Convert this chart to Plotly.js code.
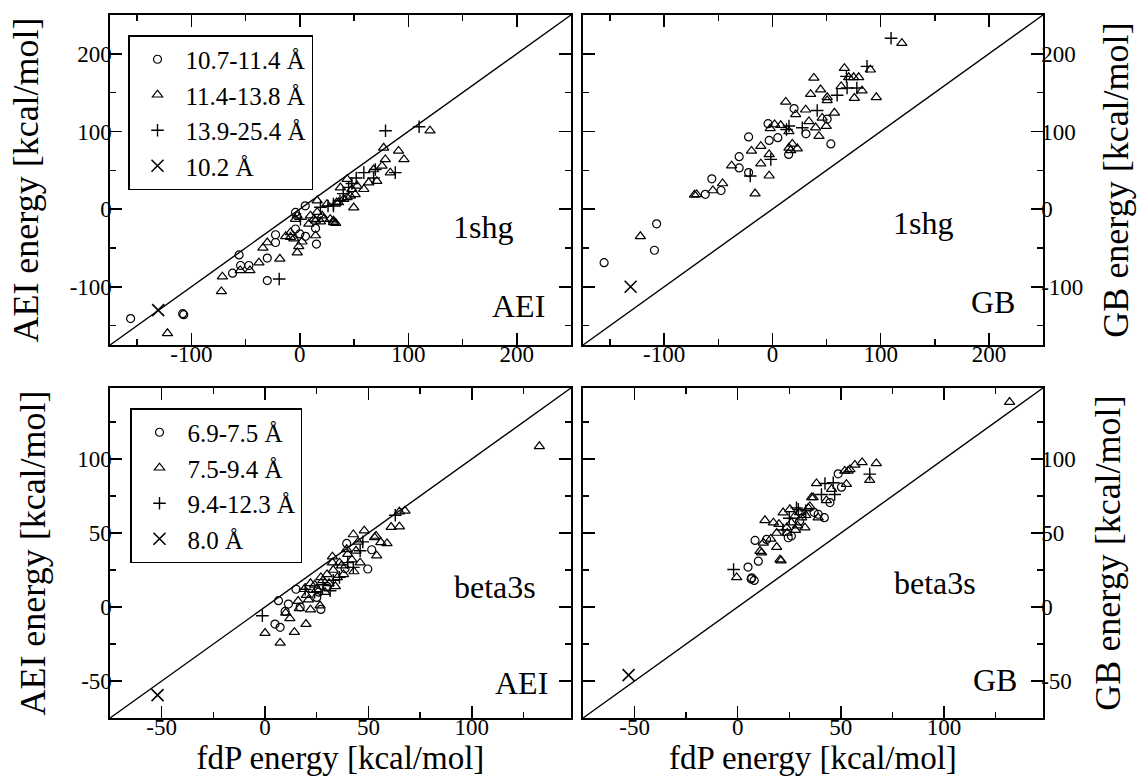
<!DOCTYPE html>
<html>
<head>
<meta charset="utf-8">
<script src="https://cdn.plot.ly/plotly-3.0.1.min.js"></script>
<style>html,body{margin:0;padding:0;background:#fff;}#chart{width:1139px;height:782px;}</style>
</head>
<body>
<div id="chart"></div>
<script>
// ---------- axis ranges and ticks ----------
const rangeShg = [-175, 250];
const rangeBeta = [-75, 148];
const ticksShg = [-100, 0, 100, 200];
const ticksBeta = [-50, 0, 50, 100];

// ---------- legend labels ----------
const labelsShg = ["10.7-11.4 Å", "11.4-13.8 Å", "13.9-25.4 Å", "10.2 Å"];
const labelsBeta = ["6.9-7.5 Å", "7.5-9.4 Å", "9.4-12.3 Å", "8.0 Å"];
const panelNames = ["1shg", "1shg", "beta3s", "beta3s"];
const methodNames = ["AEI", "GB", "AEI", "GB"];

// ---------- 1shg, AEI panel ----------
const shgAeiCircX = [-156, -108, -107, -56, -62, -54.6, -47, -30, -30, -22.4, -22.4, -4, -4, 5, 5.2, 14.5, 15.3, 0];
const shgAeiCircY = [-141, -134.6, -136, -59, -82.5, -72.6, -72.6, -63, -92, -33, -43, -4.3, -25.6, 4.3, -35, -24.8, -45, -32];
const shgAeiTriX = [-122, -72.3, -71.4, -55, -46, -37.7, -34, -30, -18.4, -13, -8.6, -8.6, -5.5, -2.4, -1, 2, -4, -2.4, 8.3, 9.8, 13, 14.4, 14.5, 16, 16, 19, 20.6, 22, 25, 28, 31, 33, 31, 34, 35.7, 37.4, 40.5, 43.6, 43.6, 46.6, 48, 49.7, 51, 52.8, 59, 63.5, 68, 71, 75.8, 77.3, 78.8, 83.4, 91, 96, 120];
const shgAeiTriY = [-160, -106, -87, -79, -79, -69, -50, -43, -64, -35, -30, -36, -38, -56, -48, -42, -13, -8.5, -19, -8.5, -13, -15, -34, 11, -4, -16, -8.5, -12.8, 6.4, -13, -17, -18, -15, 8.5, 8.5, 27.8, 12.8, 38.5, 15, 17, 25.6, 2, 19, 30, 25.6, 34.2, 51, 36, 55.6, 79, 64, 47, 75, 64, 101];
const shgAeiPlusX = [-19, 79, 110, 88, 69.6, 59, 31, 37, 0.6, 19, 31, 68, 52, 48, 45, 40, 26];
const shgAeiPlusY = [-90, 101, 106, 47, 51, 47, 6.4, 10.7, -13, 2.5, 4, 40, 40, 33, 28, 20, 4];
const shgAeiCrossX = [-130.6];
const shgAeiCrossY = [-130];

// ---------- 1shg, GB panel ----------
const shgGbCircX = [-155.5, -109, -107, -56, -62, -47.5, -30.7, -30.7, -22, -22, -4, -3, 5, 20, 15, 31, 50.6, 54];
const shgGbCircY = [-69, -53, -19, 39, 19, 24, 67.5, 53, 93, 47, 110, 88.5, 92, 129.5, 70.5, 97, 116, 84];
const shgGbTriX = [-122, -72, -70, -55, -46, -37.7, -16, -19.3, -10.7, -10.7, -3, -3, -2, 2, 7.7, 12.3, 18.4, 23, 15.3, 21.5, 30.7, 33.7, 38.3, 35.3, 44.5, 43, 39.9, 49.7, 46, 50.6, 50.6, 57.3, 66.5, 63.5, 70.5, 75, 79.7, 75.7, 82.8, 90.5, 96, 119.6, 15.3, 16.9];
const shgGbTriY = [-35, 18.4, 19, 24, 33, 56, 20, 75, 81, 58.5, 43, 70.5, 104, 109, 108, 138, 84, 78, 100, 122, 128, 113, 169, 148, 154, 94, 105, 107, 117.5, 140, 144, 124, 181.6, 158, 169.7, 169.7, 169.7, 143, 152.6, 179.5, 144, 213.7, 79, 75.6];
const shgGbPlusX = [109.6, 87.4, 68.4, 78, 59.8, 41.4, -20.5, -1.5, 13, 15.3, 69, 27.6];
const shgGbPlusY = [220, 183.8, 171, 156, 146.6, 127, 42.7, 64, 102.5, 107, 156, 104.7];
const shgGbCrossX = [-131];
const shgGbCrossY = [-100];

// ---------- beta3s, AEI panel ----------
const betaAeiCircX = [6.5, 4.8, 7.3, 9.7, 11.3, 15, 17, 25, 27, 39.5, 38.7, 51.6, 49.7, 26, 30];
const betaAeiCircY = [4.3, -11.5, -13.7, -3, 2, 12, 0, 6.5, -1.6, 43, 26, 38.7, 25.7, 10, 14];
const betaAeiTriX = [0, 7.3, 14.2, 19.8, 12, 16.6, 22, 18.9, 26.6, 32.6, 42.7, 48, 53.7, 56, 59, 61, 65, 67.7, 65, 54, 132.7, 40, 21, 24, 28, 30, 33, 35, 37, 42, 44, 46, 25, 29, 31, 34, 38, 27, 20, 16, 10, 43, 36, 22, 53, 45, 32.6, 39.5];
const betaAeiTriY = [-17.6, -24.3, -17, -11.5, -7.7, -0.9, -1.8, 12, 1, 34, 49, 51.6, 48, 43.7, 43, 54, 54.3, 65, 64.4, 34.7, 108.6, 35.8, 5, 15, 18, 22, 25, 20, 28, 32, 38, 30, 12, 10, 16, 14, 22, 20, 8, 4, -4, 24, 30, 16, 47, 44, 30, 39];
const betaAeiPlusX = [-1.3, 47.3, 42.7, 31.5, 19.4, 63, 24, 36, 40, 46, 28, 33];
const betaAeiPlusY = [-5.9, 44, 26.8, 11, 12, 62, 10, 20, 30, 38, 15, 18];
const betaAeiCrossX = [-52];
const betaAeiCrossY = [-59.5];

// ---------- beta3s, GB panel ----------
const betaGbCircX = [5, 6.8, 8.4, 10, 14, 24.5, 39, 42, 44.7, 48.7, 50.3, 6.5, 8, 26, 37, 30];
const betaGbCircY = [27, 19.7, 45, 31, 45.7, 46.8, 62.7, 60.4, 70.6, 90, 81, 19, 18, 48, 64, 58];
const betaGbTriX = [-0.5, 10.8, 12.4, 13.2, 17.3, 18.9, 18.9, 20.5, 22, 23.7, 26, 27.7, 31, 32.6, 34.2, 36.6, 39, 38.2, 52.7, 51.9, 54.4, 56.8, 60.3, 67.2, 64, 131.8, 11.6, 21, 25.3, 35.8, 45.5, 53.5, 28, 30, 33, 24, 16, 43, 20, 29, 35];
const betaGbTriY = [20, 37.8, 43.4, 58.6, 57, 50, 40.5, 32, 63.8, 53.6, 57, 61.5, 60.4, 53.6, 67, 74, 60.4, 83.5, 83, 92, 93, 96, 97.7, 97, 85.7, 138.5, 36.7, 31.4, 66, 74, 79.6, 92, 52, 64, 62, 50, 46, 72, 56, 55, 68];
const betaGbPlusX = [-2, 29.4, 40.6, 42.3, 46.3, 64, 47, 28.5, 25, 33, 22];
const betaGbPlusY = [25.3, 66, 76, 83.5, 84, 89.8, 76, 67, 60, 65, 52];
const betaGbCrossX = [-52.9];
const betaGbCrossY = [-46];

// ---------- styling ----------
const FONT = "'Liberation Serif', 'Times New Roman', serif";
const symbols = [
  {symbol: "circle-open", size: 8, lw: 1.2},
  {symbol: "triangle-up-open", size: 9, lw: 1.2},
  {symbol: "cross-thin-open", size: 9, lw: 1.4},
  {symbol: "x-thin-open", size: 12, lw: 1.6}
];

function groupTraces(xs, ys, labels, xa, ya, legendId, show) {
  return xs.map((x, i) => ({
    type: "scatter", mode: "markers",
    x: x, y: ys[i], xaxis: xa, yaxis: ya,
    name: labels[i], legend: legendId, showlegend: show,
    marker: {symbol: symbols[i].symbol, size: symbols[i].size, color: "black",
             line: {color: "black", width: symbols[i].lw}},
    cliponaxis: false, hoverinfo: "x+y"
  }));
}
function diag(range, xa, ya) {
  return {type: "scatter", mode: "lines", x: range, y: range, xaxis: xa, yaxis: ya,
          line: {color: "black", width: 1.4}, showlegend: false, hoverinfo: "skip"};
}

const traces = [].concat(
  [diag(rangeShg, "x", "y"), diag(rangeShg, "x2", "y2"), diag(rangeBeta, "x3", "y3"), diag(rangeBeta, "x4", "y4")],
  groupTraces([shgAeiCircX, shgAeiTriX, shgAeiPlusX, shgAeiCrossX], [shgAeiCircY, shgAeiTriY, shgAeiPlusY, shgAeiCrossY], labelsShg, "x", "y", "legend", true),
  groupTraces([shgGbCircX, shgGbTriX, shgGbPlusX, shgGbCrossX], [shgGbCircY, shgGbTriY, shgGbPlusY, shgGbCrossY], labelsShg, "x2", "y2", "legend", false),
  groupTraces([betaAeiCircX, betaAeiTriX, betaAeiPlusX, betaAeiCrossX], [betaAeiCircY, betaAeiTriY, betaAeiPlusY, betaAeiCrossY], labelsBeta, "x3", "y3", "legend2", true),
  groupTraces([betaGbCircX, betaGbTriX, betaGbPlusX, betaGbCrossX], [betaGbCircY, betaGbTriY, betaGbPlusY, betaGbCrossY], labelsBeta, "x4", "y4", "legend2", false)
);

const W = 1139, H = 782;
const colL = [110 / W, 571 / W], colR = [583 / W, 1043 / W];
const rowT = [1 - 345 / H, 1 - 15 / H], rowB = [1 - 718 / H, 1 - 388 / H];

function axis(domain, range, tickvals, dmajor, anchor, extra) {
  return Object.assign({
    domain: domain, range: range, anchor: anchor, autorange: false,
    tickmode: "array", tickvals: tickvals, ticktext: tickvals.map(v => v < 0 ? "-" + Math.abs(v) : String(v)),
    ticks: "inside", ticklen: 12, tickwidth: 1.5, tickcolor: "black",
    minor: {ticks: "inside", ticklen: 6, tickwidth: 1.5, tickcolor: "black", dtick: dmajor / 2, tick0: 0, showgrid: false},
    showline: true, linecolor: "black", linewidth: 1.6, mirror: "ticks",
    showgrid: false, zeroline: false,
    tickfont: {family: FONT, size: 23, color: "black"},
    automargin: false
  }, extra || {});
}
const yTitleFont = {family: FONT, size: 36, color: "black"};
const xTitleFont = {family: FONT, size: 33, color: "black"};
const yTitleL = "AEI energy [kcal/mol]";
const yTitleR = "GB energy [kcal/mol]";
const xTitle = "fdP energy [kcal/mol]";

const xLab = {ticklabelstandoff: -12};
const yLab = {ticklabelstandoff: -8};

const layout = {
  width: W, height: H,
  margin: {l: 0, r: 0, t: 0, b: 0},
  paper_bgcolor: "white", plot_bgcolor: "white",
  font: {family: FONT, color: "black"},
  xaxis: axis(colL, rangeShg, ticksShg, 100, "y", xLab),
  yaxis: axis(rowT, rangeShg, ticksShg, 100, "x", Object.assign({title: {text: yTitleL, font: yTitleFont, standoff: 20}}, yLab)),
  xaxis2: axis(colR, rangeShg, ticksShg, 100, "y2", xLab),
  yaxis2: axis(rowT, rangeShg, ticksShg, 100, "x2", Object.assign({side: "right", title: {text: yTitleR, font: yTitleFont, standoff: 20}}, yLab)),
  xaxis3: axis(colL, rangeBeta, ticksBeta, 50, "y3", Object.assign({title: {text: xTitle, font: xTitleFont, standoff: 3}}, xLab)),
  yaxis3: axis(rowB, rangeBeta, ticksBeta, 50, "x3", Object.assign({title: {text: yTitleL, font: yTitleFont, standoff: 20}}, yLab)),
  xaxis4: axis(colR, rangeBeta, ticksBeta, 50, "y4", Object.assign({title: {text: xTitle, font: xTitleFont, standoff: 3}}, xLab)),
  yaxis4: axis(rowB, rangeBeta, ticksBeta, 50, "x4", Object.assign({side: "right", title: {text: yTitleR, font: yTitleFont, standoff: 20}}, yLab)),
  legend: {x: 128 / W, y: 1 - 35 / H, xanchor: "left", yanchor: "top",
           bgcolor: "white", bordercolor: "black", borderwidth: 1.5,
           font: {family: FONT, size: 25, color: "black"}, tracegroupgap: 0, itemwidth: 46},
  legend2: {x: 130 / W, y: 1 - 408 / H, xanchor: "left", yanchor: "top",
           bgcolor: "white", bordercolor: "black", borderwidth: 1.5,
           font: {family: FONT, size: 25, color: "black"}, tracegroupgap: 0, itemwidth: 46},
  annotations: []
};

const labelPos = [
  {name: [483, 227], method: [518, 306]},
  {name: [923, 223], method: [993, 302]},
  {name: [495, 587], method: [521, 683]},
  {name: [935, 583], method: [995, 680]}
];
labelPos.forEach((p, i) => {
  layout.annotations.push({xref: "paper", yref: "paper", x: p.name[0] / W, y: 1 - p.name[1] / H,
    text: panelNames[i], showarrow: false, xanchor: "center", yanchor: "middle",
    font: {family: FONT, size: 32, color: "black"}});
  layout.annotations.push({xref: "paper", yref: "paper", x: p.method[0] / W, y: 1 - p.method[1] / H,
    text: methodNames[i], showarrow: false, xanchor: "center", yanchor: "middle",
    font: {family: FONT, size: 32, color: "black"}});
});

Plotly.newPlot("chart", traces, layout, {displayModeBar: false, staticPlot: true});
</script>
</body>
</html>
